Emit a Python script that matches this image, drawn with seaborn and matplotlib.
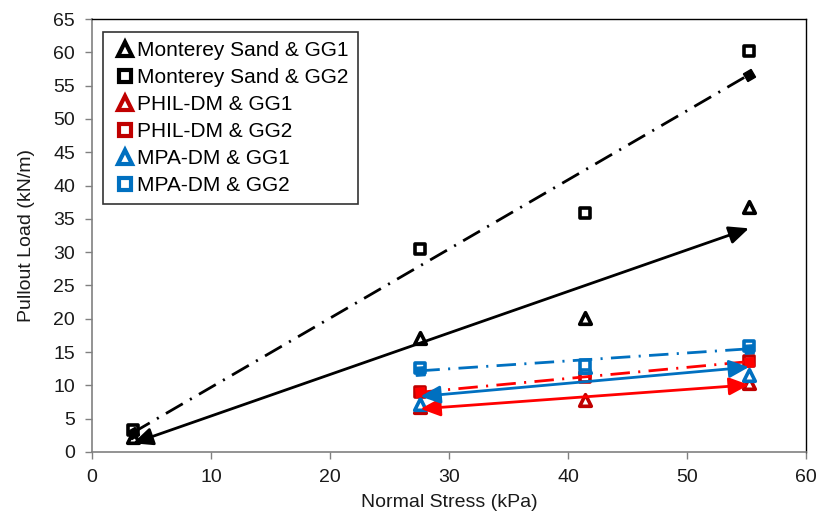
import numpy as np
import pandas as pd
import matplotlib
matplotlib.use("Agg")
import matplotlib.pyplot as plt
from matplotlib.lines import Line2D
import seaborn as sns

# ---- data ----
stress_ms = [3.45, 27.6, 41.4, 55.2]
stress_dm = [27.6, 41.4, 55.2]
ms_gg1 = [2.2, 17.1, 20.1, 36.8]
ms_gg2 = [3.3, 30.4, 35.9, 60.2]
phil_gg1 = [6.7, 7.8, 10.3]
phil_gg2 = [9.0, 11.2, 13.6]
mpa_gg1 = [7.2, 12.8, 11.6]
mpa_gg2 = [12.6, 13.0, 15.9]
labels = ["Monterey Sand & GG1", "Monterey Sand & GG2", "PHIL-DM & GG1",
          "PHIL-DM & GG2", "MPA-DM & GG1", "MPA-DM & GG2"]
x_ticks = [0, 10, 20, 30, 40, 50, 60]
y_ticks = list(range(0, 70, 5))

sns.set_theme(style="white")
plt.rcParams["font.family"] = ["Liberation Sans", "DejaVu Sans"]
plt.rcParams["lines.scale_dashes"] = False

series = [
    (labels[0], stress_ms, ms_gg1, "^", "#000000", "#000000", "solid"),
    (labels[1], stress_ms, ms_gg2, "s", "#000000", "#000000", "dashdot"),
    (labels[2], stress_dm, phil_gg1, "^", "#C00000", "#FF0000", "solid"),
    (labels[3], stress_dm, phil_gg2, "s", "#C00000", "#FF0000", "dashdot"),
    (labels[4], stress_dm, mpa_gg1, "^", "#0070C0", "#0070C0", "solid"),
    (labels[5], stress_dm, mpa_gg2, "s", "#0070C0", "#0070C0", "dashdot"),
]

fig = plt.figure(figsize=(8.2, 5.15), dpi=100)
ax = fig.add_axes([0.112, 0.1225, 0.871, 0.8405])
ax.set_xlim(0, 60)
ax.set_ylim(0, 65)

for name, xs, ys, mk, mcol, lcol, style in series:
    df = pd.DataFrame({"x": xs, "y": ys})
    sns.scatterplot(data=df, x="x", y="y", marker=mk, s=70 if mk == "^" else 60,
                    facecolor="white", edgecolor=mcol, linewidth=2.6,
                    ax=ax, zorder=3, legend=False)

fig.canvas.draw()

for name, xs, ys, mk, mcol, lcol, style in series:
    k, b = np.polyfit(xs, ys, 1)
    x0, x1 = min(xs), max(xs)
    y0, y1 = k * x0 + b, k * x1 + b
    if style == "solid":
        ax.annotate("", xy=(x1, y1), xytext=(x0, y0),
                    arrowprops=dict(arrowstyle="<|-|>,head_length=1.0,head_width=0.45",
                                    color=lcol, lw=2.0, shrinkA=0, shrinkB=0),
                    zorder=4)
    else:
        fit = pd.DataFrame({"x": [x0, x1], "y": [y0, y1]})
        sns.lineplot(data=fit, x="x", y="y", color=lcol, lw=2.0, ax=ax,
                     dashes=False, zorder=4, legend=False)
        ax.lines[-1].set_dashes([14, 6, 1.5, 6])
        p0 = ax.transData.transform((x0, y0))
        p1 = ax.transData.transform((x1, y1))
        ang = np.degrees(np.arctan2(p1[1] - p0[1], p1[0] - p0[0]))
        ax.plot([x0, x1], [y0, y1], linestyle="none",
                marker=(4, 0, ang + 45), markersize=9, color=lcol, zorder=4)

ax.set_xticks(x_ticks)
ax.set_yticks(y_ticks)
ax.tick_params(axis="both", direction="out", length=5, width=1, color="#808080",
               labelsize=14, labelcolor="#1a1a1a", bottom=True, left=True, pad=7)
for side in ["left", "bottom"]:
    ax.spines[side].set_color("#808080")
    ax.spines[side].set_linewidth(1.2)
for side in ["top", "right"]:
    ax.spines[side].set_color("#000000")
    ax.spines[side].set_linewidth(1.0)
ax.set_xlabel("Normal Stress (kPa)", fontsize=14, color="#1a1a1a", labelpad=6)
ax.set_ylabel("Pullout Load (kN/m)", fontsize=14, color="#1a1a1a", labelpad=13)

handles = [Line2D([], [], linestyle="none", marker=mk, markersize=9.5 if mk == "^" else 8.5,
                  markerfacecolor="white", markeredgecolor=mcol, markeredgewidth=3.0)
           for name, xs, ys, mk, mcol, lcol, style in series]
leg = ax.legend(handles, labels, loc="upper left", bbox_to_anchor=(0.0154, 0.970),
                fontsize=15, frameon=True, fancybox=False, edgecolor="#000000",
                handlelength=1.2, handletextpad=0.0, borderpad=0.45,
                labelspacing=0.38, borderaxespad=0)
leg.get_frame().set_linewidth(1.2)
for t in leg.get_texts():
    t.set_color("#000000")

fig.savefig("out.png", dpi=100)
